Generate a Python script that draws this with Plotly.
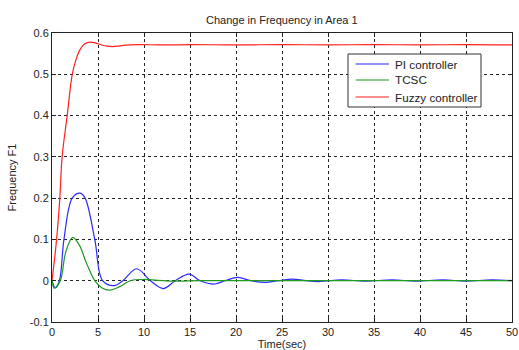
import plotly.graph_objects as go

# ---- data ----
t_pi = [0, 0.35, 0.8, 1.3, 2.2, 3.05, 3.6, 4.65, 5.5, 6.75, 7.7, 9.2, 10.7, 12.1, 13.4,
        14.9, 16.1, 17.7, 18.8, 20.2, 21.6, 23.2, 24.6, 26.1, 27.6, 29.0, 31.5, 34.0,
        37.0, 39.5, 42.5, 45.0, 47.8, 50]
f_pi = [0, -0.017, 0, 0.1, 0.2, 0.212, 0.2, 0.1, 0, -0.012, 0, 0.029, 0, -0.019, 0,
        0.016, 0, -0.008, 0, 0.008, 0, -0.004, 0, 0.004, 0, -0.002, 0.002, -0.001,
        0.002, -0.001, 0.002, -0.001, 0.002, 0]

t_tcsc = [0, 0.25, 0.9, 1.5, 2.25, 3.0, 3.7, 4.65, 5.4, 6.3, 7.3, 8.5, 9.9, 11.5, 13.5,
          16, 20, 25, 30, 35, 40, 45, 50]
f_tcsc = [0, -0.018, 0, 0.07, 0.105, 0.085, 0.045, 0, -0.017, -0.023, -0.015, 0, 0.003,
          0.001, -0.001, 0, 0, 0, 0, 0, 0, 0, 0]

t_fuzzy = [0, 0.5, 0.85, 1.1, 1.65, 2.2, 2.6, 3.0, 3.5, 4.1, 4.7, 5.4, 6.0, 6.6, 7.4,
           8.5, 9.5, 12, 15, 20, 25, 30, 35, 40, 45, 50]
f_fuzzy = [0, 0.1, 0.2, 0.3, 0.4, 0.5, 0.535, 0.558, 0.573, 0.578, 0.576, 0.571, 0.568,
           0.567, 0.569, 0.571, 0.572, 0.571, 0.572, 0.571, 0.572, 0.571, 0.572, 0.571,
           0.572, 0.571]

series_names = ["PI controller", "TCSC", "Fuzzy controller"]
series_colors = ["#2b2bff", "#1f9a1f", "#ff2020"]

x_ticks = [0, 5, 10, 15, 20, 25, 30, 35, 40, 45, 50]
y_ticks = [-0.1, 0, 0.1, 0.2, 0.3, 0.4, 0.5, 0.6]
y_tick_labels = ["-0.1", "0", "0.1", "0.2", "0.3", "0.4", "0.5", "0.6"]

FONT = "Liberation Sans, Arial, sans-serif"

fig = go.Figure()
for (tx, fy), name, col in zip([(t_pi, f_pi), (t_tcsc, f_tcsc), (t_fuzzy, f_fuzzy)],
                               series_names, series_colors):
    fig.add_trace(go.Scatter(x=tx, y=fy, mode="lines", name=name, showlegend=False,
                             line=dict(color=col, width=1.2, shape="spline")))

axis_common = dict(
    showline=True, linecolor="#222222", linewidth=1, mirror="ticks",
    ticks="inside", ticklen=4, tickcolor="#222222", automargin=False,
    showgrid=True, gridcolor="#222222", gridwidth=1, griddash="3px,3px",
    zeroline=False, tickfont=dict(family=FONT, size=11, color="#222222"),
)

fig.update_layout(
    width=519, height=350,
    margin=dict(l=52, r=7, t=33, b=28),
    paper_bgcolor="white", plot_bgcolor="white",
    font=dict(family=FONT, size=11, color="#222222"),
    title=dict(text="Change in Frequency in Area 1", x=0.543, xanchor="center",
               y=0.943, yanchor="middle", font=dict(family=FONT, size=11, color="#222222"),
               automargin=False),
    xaxis=dict(range=[0, 50], tickvals=x_ticks,
               title=dict(text="Time(sec)", font=dict(family=FONT, size=11), standoff=5),
               **axis_common),
    yaxis=dict(range=[-0.1, 0.6], tickvals=y_ticks, ticktext=y_tick_labels,
               title=dict(text="Frequency F1", font=dict(family=FONT, size=11), standoff=10),
               **axis_common),
    showlegend=False,
)

# legend box (drawn in paper coordinates)
fig.add_shape(type="rect", xref="paper", yref="paper",
              x0=0.6435, x1=0.9326, y0=0.7439, y1=0.9273,
              line=dict(color="#333333", width=1), fillcolor="white", layer="above")
row_y = [0.8927, 0.8374, 0.7785]
for name, col, ry in zip(series_names, series_colors, row_y):
    fig.add_shape(type="line", xref="paper", yref="paper", x0=0.660, x1=0.7326,
                  y0=ry, y1=ry, line=dict(color=col, width=1.2), layer="above")
    fig.add_annotation(text=name, xref="paper", yref="paper", x=0.7413, y=ry,
                       xanchor="left", yanchor="middle", showarrow=False,
                       font=dict(family=FONT, size=11.7, color="#222222"))

# big cropped heading at the very top of the image
fig.add_annotation(text="<b>Change in Frequency</b>", xref="paper", yref="paper",
                   x=(302 - 52) / 460, y=1.1073, xanchor="center", yanchor="bottom",
                   showarrow=False, font=dict(family=FONT, size=24, color="#111111"))

fig.write_html("out.html")
